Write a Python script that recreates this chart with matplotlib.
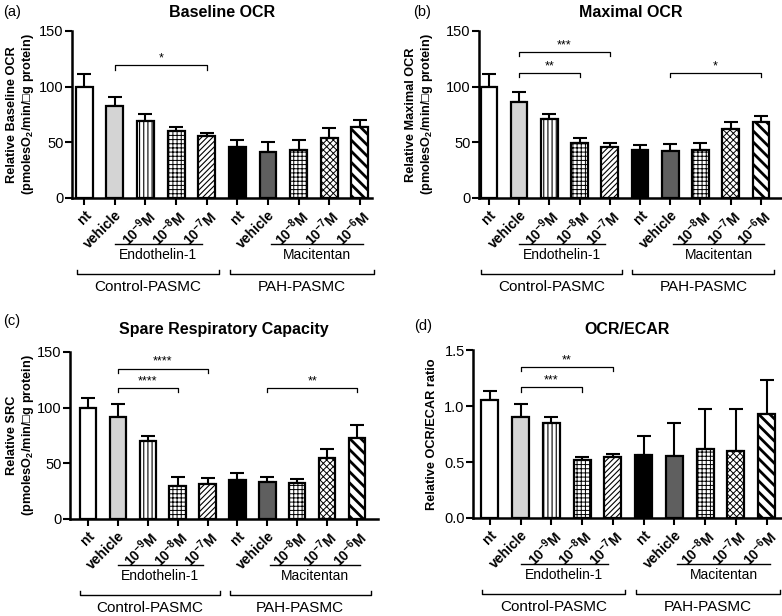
import matplotlib
matplotlib.use("Agg")
import matplotlib.pyplot as plt
import numpy as np

plt.rcParams['font.family'] = ['Liberation Sans', 'DejaVu Sans']
plt.rcParams['mathtext.fontset'] = 'custom'
plt.rcParams['mathtext.rm'] = 'Liberation Sans'
plt.rcParams['mathtext.bf'] = 'Liberation Sans:bold'

# tick labels
tick_labels = ['nt', 'vehicle', r'$\mathbf{10^{-9}M}$', r'$\mathbf{10^{-8}M}$', r'$\mathbf{10^{-7}M}$',
               'nt', 'vehicle', r'$\mathbf{10^{-8}M}$', r'$\mathbf{10^{-7}M}$', r'$\mathbf{10^{-6}M}$']

# data (mean, upper SEM)
baseline_mean = [100, 83, 69.5, 60.5, 55.5, 46, 41.5, 43.5, 54, 64]
baseline_err = [11, 7.5, 6, 3, 2.5, 6.5, 8.7, 9, 9, 6]
maximal_mean = [100, 86.5, 70.5, 49.5, 46, 43, 42.5, 43, 62, 68]
maximal_err = [11, 9, 4.5, 4, 3, 5, 6, 6, 6, 5.5]
src_mean = [100, 91.5, 70, 30, 31.5, 35, 33.5, 32, 55, 73]
src_err = [9, 12, 4.5, 7.5, 5, 6, 4.5, 4, 8, 11]
ratio_mean = [1.05, 0.905, 0.85, 0.515, 0.545, 0.56, 0.55, 0.615, 0.60, 0.925]
ratio_err = [0.08, 0.11, 0.05, 0.03, 0.03, 0.17, 0.30, 0.36, 0.375, 0.31]

colors = ['white', '#d4d4d4', 'white', 'white', 'white',
          'black', '#5f5f5f', 'white', 'white', 'white']
hatches = [None, None, '||||', '++++', '//////', None, None, '++++', 'xxxxx', '\\\\\\']
hatch_lw = [0.8, 0.8, 0.8, 0.7, 0.8, 0.8, 0.8, 0.7, 0.7, 2.0]

panels = [
    dict(tag='(a)', tagxy=(3, 12), title='Baseline OCR', tpad=10,
         mean=baseline_mean, err=baseline_err,
         ylabel='Relative Baseline OCR\n(pmolesO$_\\mathbf{2}$/min/\u25a1g protein)',
         ylim=150, yticks=[0, 50, 100, 150], ytl=['0', '50', '100', '150'],
         pos=[0.0921, 0.6786, 0.3836, 0.2711], xlim=(-0.4, 9.4), lx=-0.12,
         sig=[(1, 4, 119, '*')]),
    dict(tag='(b)', tagxy=(413, 12), title='Maximal OCR', tpad=10,
         mean=maximal_mean, err=maximal_err,
         ylabel='Relative Maximal OCR\n(pmolesO$_\\mathbf{2}$/min/\u25a1g protein)',
         ylim=150, yticks=[0, 50, 100, 150], ytl=['0', '50', '100', '150'],
         pos=[0.6125, 0.6786, 0.3875, 0.2711], xlim=(-0.33, 9.7), lx=-0.145,
         sig=[(1, 4, 131, '***'), (1, 3, 112, '**'), (6, 9, 112, '*')]),
    dict(tag='(c)', tagxy=(3, 321), title='Spare Respiratory Capacity', tpad=13,
         mean=src_mean, err=src_err,
         ylabel='Relative SRC\n(pmolesO$_\\mathbf{2}$/min/\u25a1g protein)',
         ylim=150, yticks=[0, 50, 100, 150], ytl=['0', '50', '100', '150'],
         pos=[0.0895, 0.1575, 0.3939, 0.2711], xlim=(-0.6, 9.7), lx=-0.11,
         sig=[(1, 4, 135, '****'), (1, 3, 117.5, '****'), (6, 9, 117.5, '**')]),
    dict(tag='(d)', tagxy=(414, 326), title='OCR/ECAR', tpad=11.5,
         mean=ratio_mean, err=ratio_err,
         ylabel='Relative OCR/ECAR ratio',
         ylim=1.5, yticks=[0, 0.5, 1.0, 1.5], ytl=['0.0', '0.5', '1.0', '1.5'],
         pos=[0.6049, 0.1591, 0.3951, 0.2727], xlim=(-0.55, 9.5), lx=-0.114,
         sig=[(1, 4, 1.35, '**'), (1, 3, 1.167, '***')]),
]

W, H = 782, 616
fig = plt.figure(figsize=(W / 100, H / 100), dpi=100)
x = np.arange(len(tick_labels))

for p in panels:
    ax = fig.add_axes(p['pos'])
    for i in range(len(x)):
        with plt.rc_context({'hatch.linewidth': hatch_lw[i]}):
            ax.bar(x[i], p['mean'][i], width=0.55, color=colors[i], edgecolor='black',
                   linewidth=1.6, hatch=hatches[i], zorder=2)
    ax.errorbar(x, p['mean'], yerr=[np.zeros(len(x)), p['err']], fmt='none',
                ecolor='black', elinewidth=1.5, capsize=5, capthick=1.5, zorder=1)
    ax.set_xlim(*p['xlim'])
    ax.set_ylim(0, p['ylim'])
    ax.set_yticks(p['yticks'])
    ax.set_yticklabels(p['ytl'], fontsize=10.5)
    ax.set_xticks(x)
    ax.set_xticklabels(tick_labels, rotation=45, ha='right', rotation_mode='anchor',
                       fontsize=10, fontweight='bold')
    ax.tick_params(axis='both', direction='out', length=5, width=1.5)
    ax.tick_params(axis='y', pad=1)
    ax.tick_params(axis='x', pad=2)
    for s in ['top', 'right']:
        ax.spines[s].set_visible(False)
    for s in ['left', 'bottom']:
        ax.spines[s].set_linewidth(1.8)
    ax.set_ylabel(p['ylabel'], fontsize=9.2, fontweight='bold', linespacing=1.15)
    ax.yaxis.set_label_coords(p['lx'], 0.5)
    ax.set_title(p['title'], fontsize=11.5, fontweight='bold', pad=p['tpad'])
    fig.text(p['tagxy'][0] / W, 1 - p['tagxy'][1] / H, p['tag'],
             fontsize=10.5, va='center', ha='left')

    # significance brackets
    tick_h = p['ylim'] * 0.025
    for x0, x1, yy, star in p['sig']:
        ax.plot([x0, x0, x1, x1], [yy - tick_h, yy, yy, yy - tick_h], color='black',
                lw=0.9, clip_on=False)
        ax.text((x0 + x1) / 2, yy + p['ylim'] * 0.005, star, ha='center', va='bottom',
                fontsize=9)

    # group annotations below the axis
    tr = ax.get_xaxis_transform()
    ax.plot([1.0, 3.85], [-0.275, -0.275], transform=tr, color='black', lw=1, clip_on=False)
    ax.text(2.4, -0.30, 'Endothelin-1', transform=tr, ha='center', va='top', fontsize=10)
    ax.plot([6.1, 9.1], [-0.275, -0.275], transform=tr, color='black', lw=1, clip_on=False)
    ax.text(7.6, -0.30, 'Macitentan', transform=tr, ha='center', va='top', fontsize=10)
    for a, b in [(-0.25, 4.4), (4.75, 9.45)]:
        ax.plot([a, a, b, b], [-0.43, -0.455, -0.455, -0.43], transform=tr,
                color='black', lw=1, clip_on=False)
    ax.text(2.07, -0.49, 'Control-PASMC', transform=tr, ha='center', va='top', fontsize=11)
    ax.text(7.1, -0.49, 'PAH-PASMC', transform=tr, ha='center', va='top', fontsize=11)

fig.savefig('out.png', dpi=100)
